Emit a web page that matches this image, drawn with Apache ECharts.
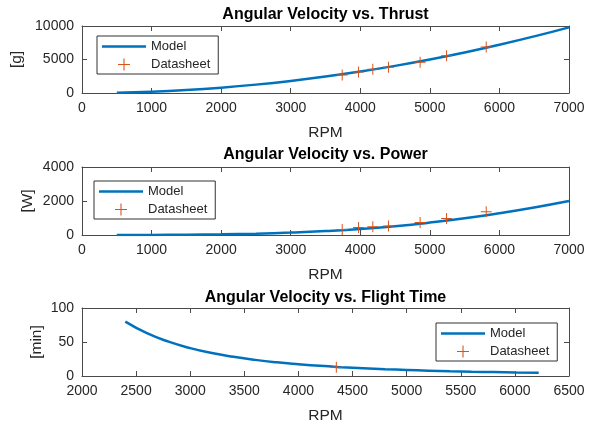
<!DOCTYPE html>
<html><head><meta charset="utf-8">
<script src="https://cdn.jsdelivr.net/npm/echarts@6/dist/echarts.min.js"></script>
<style>html,body{margin:0;padding:0;background:#fff}#c{width:593px;height:425px}</style>
</head><body><div id="c"></div>
<script>
// ---- data ----
const titles = ['Angular Velocity vs. Thrust', 'Angular Velocity vs. Power', 'Angular Velocity vs. Flight Time'];
const yNames = ['[g]', '[W]', '[min]'];
const xName = 'RPM';
const legendNames = ['Model', 'Datasheet'];

const thrustModelRpm = [500, 1000, 1500, 2000, 2500, 3000, 3500, 4000, 4500, 5000, 5500, 6000, 6500, 7000];
const thrustModel = [50, 200, 450, 800, 1250, 1800, 2450, 3200, 4050, 5000, 6050, 7200, 8450, 9800];
const sheetRpm = [3740, 3975, 4180, 4405, 4860, 5240, 5810];
const thrustSheet = [2700, 3150, 3550, 3850, 4600, 5550, 6850];

const powerModelRpm = [500, 1000, 1500, 2000, 2500, 3000, 3500, 4000, 4500, 5000, 5500, 6000, 6500, 7000];
const powerModel = [1, 5, 15, 38, 80, 145, 235, 355, 520, 730, 980, 1280, 1620, 2000];
const powerSheet = [330, 440, 490, 530, 730, 970, 1370];

const flightModelRpm = [2400, 2600, 2800, 3000, 3200, 3400, 3600, 3800, 4000, 4200, 4400, 4600, 4800, 5000, 5200, 5400, 5600, 5800, 6000, 6220];
const flightModel = [80, 63, 50.5, 41, 33.7, 28.2, 23.7, 20.1, 17.3, 14.9, 13, 11.4, 10, 8.9, 7.9, 7, 6.3, 5.7, 5.1, 4.6];
const flightSheetRpm = [4350];
const flightSheet = [13];

const xRanges = [[0, 7000, 1000], [0, 7000, 1000], [2000, 6500, 500]];
const yRanges = [[0, 10000, 5000], [0, 4000, 2000], [0, 100, 50]];

// ---- styling / layout ----
const FONT = '"Liberation Sans", Arial, Helvetica, sans-serif';
const AX = '#4a4a4a';
const TXT = '#262626';
const BLUE = '#0072BD';
const ORANGE = '#D95319';
const PLUS = 'path://M4.55,0H5.45V4.55H10V5.45H5.45V10H4.55V5.45H0V4.55H4.55Z';
const BAR = 'path://M0,0H44V2.5H0Z';

const grids = [
  {left: 82, top: 26, width: 487, height: 67},
  {left: 82, top: 167, width: 487, height: 68},
  {left: 82, top: 308, width: 487, height: 68}
];
const titleTops = [7, 147, 290];
const yNameGaps = [57, 46, 37];
const legendPos = [[97, 36], [94, 181], [436, 323]];

const pairs = (xs, ys) => xs.map((x, k) => [x, ys[k]]);
const modelData = [pairs(thrustModelRpm, thrustModel), pairs(powerModelRpm, powerModel), pairs(flightModelRpm, flightModel)];
const sheetData = [pairs(sheetRpm, thrustSheet), pairs(sheetRpm, powerSheet), pairs(flightSheetRpm, flightSheet)];
const plain = v => String(v);

const xAxis = [], yAxis = [], series = [], title = [], legend = [];
grids.forEach((g, i) => {
  const [xmin, xmax, xint] = xRanges[i];
  const [ymin, ymax, yint] = yRanges[i];
  const tick = {show: true, inside: true, length: 5, lineStyle: {color: AX, width: 1}};
  const line = {show: true, onZero: false, lineStyle: {color: AX, width: 1}};
  xAxis.push({
    gridIndex: i, type: 'value', min: xmin, max: xmax, interval: xint, position: 'bottom',
    axisLine: line, axisTick: tick, splitLine: {show: false},
    axisLabel: {fontSize: 14, color: TXT, margin: 8, fontFamily: FONT, formatter: plain},
    name: xName, nameLocation: 'middle', nameGap: 32, nameMoveOverlap: false,
    nameTextStyle: {fontSize: 15.5, color: TXT, fontFamily: FONT}
  });
  xAxis.push({
    gridIndex: i, type: 'value', min: xmin, max: xmax, interval: xint, position: 'top',
    axisLine: line, axisTick: tick, splitLine: {show: false}, axisLabel: {show: false}
  });
  yAxis.push({
    gridIndex: i, type: 'value', min: ymin, max: ymax, interval: yint, position: 'left',
    axisLine: line, axisTick: tick, splitLine: {show: false},
    axisLabel: {fontSize: 14, color: TXT, margin: 8, fontFamily: FONT, formatter: plain},
    name: yNames[i], nameLocation: 'middle', nameGap: yNameGaps[i], nameMoveOverlap: false,
    nameTextStyle: {fontSize: 15.5, color: TXT, fontFamily: FONT}
  });
  yAxis.push({
    gridIndex: i, type: 'value', min: ymin, max: ymax, interval: yint, position: 'right',
    axisLine: line, axisTick: tick, splitLine: {show: false}, axisLabel: {show: false}
  });
  series.push({
    name: legendNames[0], type: 'line', xAxisIndex: 2 * i, yAxisIndex: 2 * i,
    data: modelData[i], symbol: 'none', showSymbol: false, smooth: 0.5,
    lineStyle: {color: BLUE, width: 2.5}, itemStyle: {color: BLUE}, z: 2
  });
  series.push({
    name: legendNames[1], type: 'scatter', xAxisIndex: 2 * i, yAxisIndex: 2 * i,
    data: sheetData[i], symbol: PLUS, symbolSize: 11, symbolKeepAspect: true,
    itemStyle: {color: ORANGE, opacity: 1}, z: 3
  });
  title.push({
    text: titles[i], left: g.left + g.width / 2, top: titleTops[i], textAlign: 'center', padding: 0,
    textStyle: {fontSize: 16, fontWeight: 'bold', color: '#000', fontFamily: FONT}
  });
  legend.push({
    data: [
      {name: legendNames[0], icon: BAR, itemStyle: {color: BLUE}},
      {name: legendNames[1], icon: PLUS, itemStyle: {color: ORANGE}}
    ],
    orient: 'vertical', symbolKeepAspect: true,
    left: legendPos[i][0], top: legendPos[i][1], padding: [4, 8, 3, 5],
    itemWidth: 44, itemHeight: 12, itemGap: 5, selectedMode: false,
    borderColor: '#333', borderWidth: 1, backgroundColor: '#fff', borderRadius: 0,
    textStyle: {fontSize: 13, color: TXT, fontFamily: FONT}
  });
});

const chart = echarts.init(document.getElementById('c'), null, {renderer: 'canvas'});
chart.setOption({
  animation: false,
  backgroundColor: '#fff',
  textStyle: {fontFamily: FONT},
  title, legend, grid: grids, xAxis, yAxis, series
});
</script>
</body></html>
